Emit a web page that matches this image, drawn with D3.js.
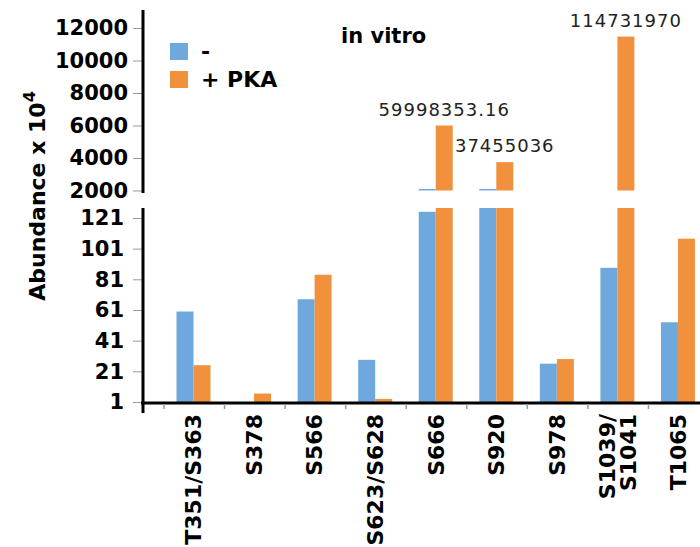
<!DOCTYPE html>
<html>
<head>
<meta charset="utf-8">
<script src="https://cdn.jsdelivr.net/npm/d3@7"></script>
<style>
  body { margin: 0; background: #fff; }
  svg text { font-family: "DejaVu Sans", sans-serif; }
</style>
</head>
<body>
<svg id="chart" width="700" height="547"></svg>
<script>
// categories (phosphosites) and abundance values (x 10^4)
let categories = ["T351/S363", "S378", "S566", "S623/S628", "S666", "S920", "S978", "S1039/S1041", "T1065"];
let tickLabels = [["T351/S363"], ["S378"], ["S566"], ["S623/S628"], ["S666"], ["S920"], ["S978"], ["S1039/", "S1041"], ["T1065"]];
let minusValues = [60, 0, 68, 28.5, 125, 130, 26, 88.5, 53];
let pkaValues = [25, 6.5, 84, 3, 5999.835316, 3745.5036, 29, 11473.197, 107.5];
let pkaLabels = ["", "", "", "", "59998353.16", "37455036", "", "114731970", ""];
let upperTicks = [2000, 4000, 6000, 8000, 10000, 12000];
let lowerTicks = [1, 21, 41, 61, 81, 101, 121];
let series = ["-", "+ PKA"];
let colors = ["#6FA8DC", "#F2913D"];

let svg = d3.select("#chart");

// broken y axis: two panels
let yUp = d3.scaleLinear().domain([1846, 13108]).range([193, 10]);
let yLow = d3.scaleLinear().domain([1, 127.5]).range([402, 208]);
let upBase = 2000;   // bottom of the upper panel bars
let stubFrom = 120;  // values above this leave a sliver in the upper panel

let x = d3.scaleBand().domain(categories).range([164, 709]);
let xSub = d3.scaleBand().domain(series).range([12.5, 46.5]);

let rows = categories.map((c, i) => ({cat: c, vals: [minusValues[i], pkaValues[i]], label: pkaLabels[i]}));

// lower panel bars
let lowG = svg.append("g");
rows.forEach(r => {
    r.vals.forEach((v, j) => {
        if (v <= 1) return;
        let top = yLow(Math.min(v, 127.5));
        lowG.append("rect")
            .attr("x", x(r.cat) + xSub(series[j]))
            .attr("y", top)
            .attr("width", xSub.bandwidth())
            .attr("height", yLow(1) - top)
            .attr("fill", colors[j]);
    });
});

// upper panel bars
let upG = svg.append("g");
rows.forEach(r => {
    r.vals.forEach((v, j) => {
        if (v <= stubFrom) return;
        let top = Math.min(yUp(Math.max(v, upBase)), yUp(upBase) - 1.5);
        upG.append("rect")
            .attr("x", x(r.cat) + xSub(series[j]))
            .attr("y", top)
            .attr("width", xSub.bandwidth())
            .attr("height", yUp(upBase) - top)
            .attr("fill", colors[j]);
    });
    if (r.label) {
        svg.append("text")
            .attr("x", x(r.cat) + xSub(series[1]) + xSub.bandwidth() / 2)
            .attr("y", yUp(r.vals[1]) - 10)
            .attr("text-anchor", "middle")
            .attr("font-size", 18)
            .attr("letter-spacing", 1)
            .attr("fill", "#222")
            .text(r.label);
    }
});

// y axes
let upAxis = svg.append("g")
    .attr("transform", "translate(143,0)")
    .call(d3.axisLeft(yUp).tickValues(upperTicks).tickSize(10).tickPadding(5).tickFormat(d3.format("d")));
let lowAxis = svg.append("g")
    .attr("transform", "translate(143,0)")
    .call(d3.axisLeft(yLow).tickValues(lowerTicks).tickSize(10).tickPadding(9).tickFormat(d3.format("d")));
[upAxis, lowAxis].forEach(a => {
    a.select(".domain").remove();
    a.selectAll(".tick line").attr("stroke", "#999").attr("stroke-width", 1);
    a.selectAll(".tick text")
        .attr("font-size", 21)
        .attr("font-weight", "bold")
        .attr("font-family", "DejaVu Sans")
        .attr("fill", "#000");
});
svg.append("line").attr("x1", 143).attr("x2", 143).attr("y1", 10).attr("y2", 193)
    .attr("stroke", "#000").attr("stroke-width", 3);
svg.append("line").attr("x1", 143).attr("x2", 143).attr("y1", 208).attr("y2", 413)
    .attr("stroke", "#000").attr("stroke-width", 3);

// x axis
svg.append("line").attr("x1", 141).attr("x2", 700).attr("y1", 403).attr("y2", 403)
    .attr("stroke", "#000").attr("stroke-width", 3);
categories.forEach(c => {
    svg.append("line")
        .attr("x1", x(c)).attr("x2", x(c))
        .attr("y1", 404).attr("y2", 409)
        .attr("stroke", "#999").attr("stroke-width", 1.5);
});
categories.forEach((c, i) => {
    let lines = tickLabels[i];
    let t = svg.append("text")
        .attr("transform", "translate(" + (x(c) + x.bandwidth() / 2 - 1) + ",414) rotate(-90)")
        .attr("text-anchor", "end")
        .attr("font-size", 22)
        .attr("font-weight", "bold");
    lines.forEach((l, k) => {
        t.append("tspan")
            .attr("x", 0)
            .attr("y", (k - (lines.length - 1) / 2) * 21 + 8)
            .text(l);
    });
});

// y axis title
let yt = svg.append("text")
    .attr("transform", "translate(45,196) rotate(-90)")
    .attr("text-anchor", "middle")
    .attr("font-size", 22)
    .attr("font-weight", "bold");
yt.append("tspan").text("Abundance x 10");
yt.append("tspan").attr("dy", -10).attr("font-size", 16).text("4");

// legend
series.forEach((s, i) => {
    svg.append("rect")
        .attr("x", 170).attr("y", 43 + i * 28)
        .attr("width", 18).attr("height", 17)
        .attr("fill", colors[i]);
    svg.append("text")
        .attr("x", 201).attr("y", 59 + i * 28)
        .attr("font-size", 22)
        .attr("font-weight", "bold")
        .text(s);
});

// title
svg.append("text")
    .attr("x", 341).attr("y", 43)
    .attr("font-size", 21)
    .attr("font-weight", "bold")
    .text("in vitro");
</script>
</body>
</html>
